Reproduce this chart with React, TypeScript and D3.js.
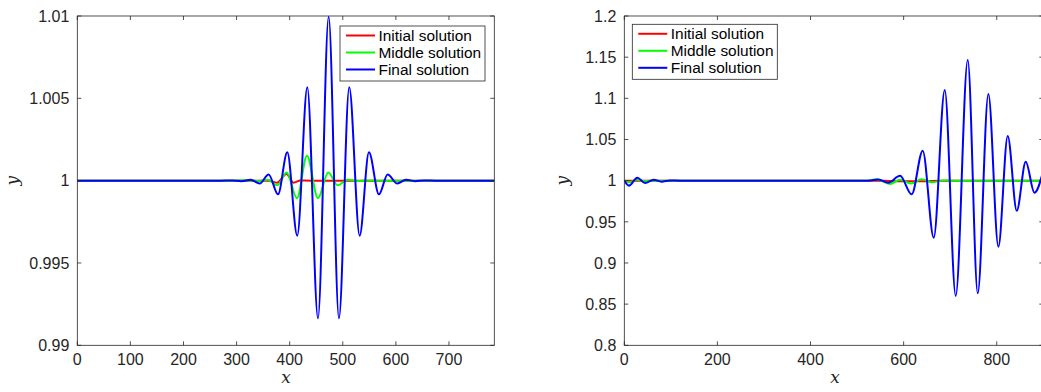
import React from "react";
import * as d3 from "d3";

type Pt = [number, number];

// ---------- Left panel data ----------
const leftInitial: Pt[] = [
  [0, 1], [360, 1], [376, 0.99988], [394, 1.0004], [407, 0.99988], [420, 1.00001], [440, 1], [785.4, 1],
];
const leftMiddle: Pt[] = [
  [0, 1], [290, 1], [310, 1.00003], [330, 1.0], [342, 0.99998], [358.8, 1.00006], [376.6, 0.99972],
  [394.3, 1.0005], [413.7, 0.99893], [432.6, 1.00151], [453.3, 0.99893], [472.7, 1.0005],
  [490.4, 0.99972], [509, 1.00006], [527, 0.99998], [545, 1.00001], [570, 1], [785.4, 1],
];
const leftFinal: Pt[] = [
  [0, 1], [270, 1], [292, 1.00001], [309, 0.99997], [326.5, 1.00006], [343.5, 0.99982],
  [360.4, 1.00038], [378, 0.99917], [395.5, 1.00172], [414.3, 0.99666], [433.2, 1.00567],
  [453.3, 0.99164], [473.4, 1.00995], [492.8, 0.99164], [512.2, 1.00567], [531.8, 0.99666],
  [549.3, 1.00172], [568.2, 0.99917], [584.5, 1.00038], [602.6, 0.99982], [619, 1.00006],
  [636, 0.99997], [653, 1.00001], [675, 1], [785.4, 1],
];

// ---------- Right panel data ----------
const rightInitial: Pt[] = [
  [0, 1], [560, 1], [580, 0.9993], [640, 0.9994], [680, 1], [900, 1],
];
const rightMiddle: Pt[] = [
  [0, 1], [10, 0.998], [28, 1.001], [45, 0.9995], [65, 1], [520, 1], [542, 1.0016],
  [570.8, 0.9959], [592, 1.001], [616, 0.9966], [639, 1.0018], [661, 0.998], [685, 1.0002],
  [710, 1], [900, 1],
];
const rightFinal: Pt[] = [
  [0, 1.0], [10, 0.9939], [28, 1.0036], [44.5, 0.9971], [63, 1.0012], [80, 0.9987], [98, 1.0003],
  [120, 1], [525, 1], [545.7, 1.0014], [567, 0.9975], [592.3, 1.006], [617.3, 0.9834],
  [641, 1.0364], [664.7, 0.9307], [688.3, 1.11], [711.9, 0.86], [737.7, 1.1466], [759.2, 0.8631],
  [782, 1.1053], [803.5, 0.9198], [823.6, 1.0543], [843, 0.9635], [862.3, 1.023], [881, 0.9854],
  [900, 1.012],
];

const leftXTicks = [0, 100, 200, 300, 400, 500, 600, 700];
const leftYTicks = [0.99, 0.995, 1, 1.005, 1.01];
const rightXTicks = [0, 200, 400, 600, 800];
const rightYTicks = [0.8, 0.85, 0.9, 0.95, 1, 1.05, 1.1, 1.15, 1.2];

const seriesNames = ["Initial solution", "Middle solution", "Final solution"];
const seriesColors = ["#ff0000", "#00ff00", "#0000ff"];

const AX = "#262626";
const FONT = "'Liberation Sans', Arial, Helvetica, sans-serif";

interface PanelProps {
  id: string;
  left: number;
  right: number;
  top: number;
  bottom: number;
  xDomain: [number, number];
  yDomain: [number, number];
  xTicks: number[];
  yTicks: number[];
  series: Pt[][];
  legendX: number;
  legendY: number;
  legendW: number;
  xLabelX: number;
  yLabelX: number;
}

function Panel(p: PanelProps) {
  const x = d3.scaleLinear().domain(p.xDomain).range([p.left, p.right]);
  const y = d3.scaleLinear().domain(p.yDomain).range([p.bottom, p.top]);
  const line = d3
    .line<Pt>()
    .x((d) => x(d[0]))
    .y((d) => y(d[1]))
    .curve(d3.curveMonotoneX);
  const fmt = (v: number) => String(+v.toFixed(4));
  const tl = 4;
  const rowH = 17;
  return (
    <g>
      <defs>
        <clipPath id={`clip-${p.id}`}>
          <rect x={p.left} y={p.top - 2} width={p.right - p.left} height={p.bottom - p.top + 4} />
        </clipPath>
      </defs>
      <rect x={p.left} y={p.top} width={p.right - p.left} height={p.bottom - p.top} fill="#fff" />
      <g clipPath={`url(#clip-${p.id})`}>
        {p.series.map((s, i) => (
          <path key={i} d={line(s) || ""} fill="none" stroke={seriesColors[i]} strokeWidth={2} strokeLinejoin="round" />
        ))}
      </g>
      {/* box */}
      <rect x={p.left} y={p.top} width={p.right - p.left} height={p.bottom - p.top} fill="none" stroke={AX} strokeWidth={0.8} />
      {/* x ticks */}
      {p.xTicks.map((t) => (
        <g key={`x${t}`}>
          <line x1={x(t)} x2={x(t)} y1={p.bottom} y2={p.bottom - tl} stroke={AX} strokeWidth={0.8} />
          <line x1={x(t)} x2={x(t)} y1={p.top} y2={p.top + tl} stroke={AX} strokeWidth={0.8} />
          <text x={x(t)} y={p.bottom + 20} textAnchor="middle" fontFamily={FONT} fontSize={16} fill={AX}>
            {fmt(t)}
          </text>
        </g>
      ))}
      {/* y ticks */}
      {p.yTicks.map((t) => (
        <g key={`y${t}`}>
          <line x1={p.left} x2={p.left + tl} y1={y(t)} y2={y(t)} stroke={AX} strokeWidth={0.8} />
          <line x1={p.right} x2={p.right - tl} y1={y(t)} y2={y(t)} stroke={AX} strokeWidth={0.8} />
          <text x={p.left - 8} y={y(t)} dy="0.36em" textAnchor="end" fontFamily={FONT} fontSize={16} fill={AX}>
            {fmt(t)}
          </text>
        </g>
      ))}
      {/* axis labels */}
      <text x={p.xLabelX} y={383} textAnchor="middle" fontFamily="'DejaVu Serif', 'Liberation Serif', serif" fontStyle="italic" fontSize={17} fill={AX}>
        x
      </text>
      <text
        transform={`translate(${p.yLabelX},${(p.top + p.bottom) / 2}) rotate(-90)`}
        textAnchor="middle"
        fontFamily="'DejaVu Serif', 'Liberation Serif', serif"
        fontStyle="italic"
        fontSize={17}
        fill={AX}
      >
        y
      </text>
      {/* legend */}
      <g transform={`translate(${p.legendX},${p.legendY})`}>
        <rect x={0} y={0} width={p.legendW} height={rowH * 3 + 4} fill="#fff" stroke={AX} strokeWidth={0.8} />
        {seriesNames.map((n, i) => (
          <g key={n} transform={`translate(0,${9.5 + i * rowH})`}>
            <line x1={6} x2={35} y1={0} y2={0} stroke={seriesColors[i]} strokeWidth={2} />
            <text x={38.5} y={0} dy="0.36em" fontFamily={FONT} fontSize={15.4} fill="#000">
              {n}
            </text>
          </g>
        ))}
      </g>
    </g>
  );
}

export default function App() {
  return (
    <svg
      width={1041}
      height={392}
      style={{ position: "absolute", left: 0, top: 0, background: "#fff" }}
    >
      <rect x={0} y={0} width={1041} height={392} fill="#fff" />
      <Panel
        id="l"
        left={77.3}
        right={494.3}
        top={16}
        bottom={345.3}
        xDomain={[0, 785.4]}
        yDomain={[0.99, 1.01]}
        xTicks={leftXTicks}
        yTicks={leftYTicks}
        series={[leftInitial, leftMiddle, leftFinal]}
        legendX={340}
        legendY={26}
        legendW={145}
        xLabelX={286}
        yLabelX={18}
      />
      <Panel
        id="r"
        left={624.3}
        right={1043.3}
        top={16}
        bottom={345.3}
        xDomain={[0, 900]}
        yDomain={[0.8, 1.2]}
        xTicks={rightXTicks}
        yTicks={rightYTicks}
        series={[rightInitial, rightMiddle, rightFinal]}
        legendX={632.3}
        legendY={24.3}
        legendW={145}
        xLabelX={835}
        yLabelX={568}
      />
    </svg>
  );
}
